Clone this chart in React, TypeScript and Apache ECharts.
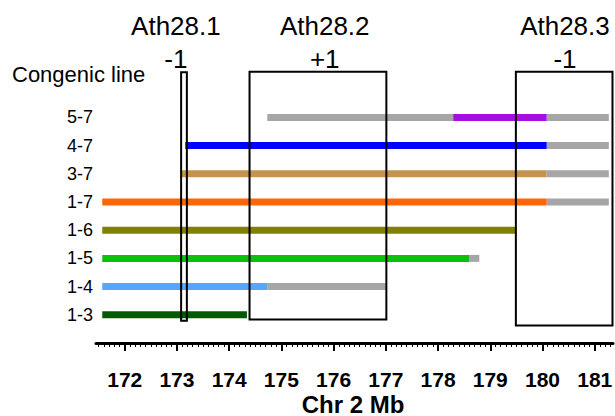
import React, { useEffect, useRef } from "react";
import * as echarts from "echarts";

// Congenic lines, bottom to top (row value 1..8)
const lineNames = ["1-3", "1-4", "1-5", "1-6", "1-7", "3-7", "4-7", "5-7"];

// Introgressed (coloured) segments: [line, start Mb, end Mb]
const colouredSegments: [string, number, number][] = [
  ["1-3", 171.57, 174.34],
  ["1-4", 171.57, 174.73],
  ["1-5", 171.57, 178.6],
  ["1-6", 171.57, 179.48],
  ["1-7", 171.57, 180.08],
  ["3-7", 173.07, 180.08],
  ["4-7", 173.16, 180.08],
  ["5-7", 178.29, 180.08],
];

// Ambiguous (grey) segments: [line, start Mb, end Mb]
const greySegments: [string, number, number][] = [
  ["1-4", 174.73, 177.0],
  ["1-5", 178.6, 178.79],
  ["1-7", 180.08, 181.27],
  ["3-7", 180.08, 181.27],
  ["4-7", 180.08, 181.27],
  ["5-7", 174.73, 178.29],
  ["5-7", 180.08, 181.27],
];

// QTL boxes
const qtlNames = ["Ath28.1", "Ath28.2", "Ath28.3"];
const qtlEffects = ["-1", "+1", "-1"];
const qtlStart = [173.08, 174.39, 179.49];
const qtlEnd = [173.19, 177.01, 181.34];
const qtlBottom = [0.79, 0.83, 0.62];
const qtlTop = [9.6, 9.62, 9.62];
const qtlLabelAt = [172.98, 175.83, 180.43];

// Axis ticks
const tickLabels = [172, 173, 174, 175, 176, 177, 178, 179, 180, 181];
const axisTitle = "Chr 2 Mb";
const minorTickStart = 171.5;
const minorTickEnd = 181.3;

const lineColours: Record<string, string> = {
  "1-3": "#035a03",
  "1-4": "#58a6fa",
  "1-5": "#0ac00a",
  "1-6": "#818100",
  "1-7": "#ff6608",
  "3-7": "#c4944f",
  "4-7": "#0000ff",
  "5-7": "#a60ee2",
};
const greyColour = "#a6a6a8";
const FONT = "Liberation Sans";

export default function App() {
  const ref = useRef<HTMLDivElement>(null);
  useEffect(() => {
    if (!ref.current) return;
    const chart = echarts.init(ref.current, null, { renderer: "svg" });

    const minorTicks: number[] = [];
    for (let v = Math.round(minorTickStart * 10); v <= Math.round(minorTickEnd * 10); v++) {
      minorTicks.push(v / 10);
    }

    const barData = [
      ...greySegments.map((s) => [s[1], s[2], lineNames.indexOf(s[0]) + 1]),
      ...colouredSegments.map((s) => [s[1], s[2], lineNames.indexOf(s[0]) + 1]),
    ];
    const barColours = [
      ...greySegments.map(() => greyColour),
      ...colouredSegments.map((s) => lineColours[s[0]]),
    ];

    const boxData = qtlNames.map((_, i) => [qtlStart[i], qtlEnd[i], qtlBottom[i], qtlTop[i], qtlLabelAt[i]]);

    const xMin = 171.45;
    const xMax = 181.35;

    chart.setOption({
      animation: false,
      grid: { left: 96, right: 2, top: 61, bottom: 73, containLabel: false, outerBoundsMode: "none" },
      xAxis: [
        {
          type: "value",
          min: xMin,
          max: xMax,
          position: "bottom",
          axisLine: { show: true, onZero: false, lineStyle: { color: "#000", width: 3 } },
          axisTick: { show: true, customValues: tickLabels, length: 8, lineStyle: { color: "#000", width: 2 } },
          axisLabel: {
            show: true,
            customValues: tickLabels,
            margin: 26,
            color: "#000",
            fontSize: 21,
            fontWeight: "bold",
            fontFamily: FONT,
          },
          splitLine: { show: false },
        },
        {
          type: "value",
          min: xMin,
          max: xMax,
          position: "bottom",
          axisLine: { show: false },
          axisTick: { show: true, customValues: minorTicks, length: 4, lineStyle: { color: "#000", width: 1 } },
          axisLabel: { show: false },
          splitLine: { show: false },
        },
      ],
      yAxis: {
        type: "value",
        min: 0,
        max: 10,
        axisLine: { show: false },
        axisTick: { show: false },
        splitLine: { show: false },
        axisLabel: {
          show: true,
          customValues: [1, 2, 3, 4, 5, 6, 7, 8],
          formatter: (v: number) => lineNames[Math.round(v) - 1] ?? "",
          align: "center",
          margin: 16,
          color: "#000",
          fontSize: 18,
          fontFamily: FONT,
        },
      },
      graphic: [
        {
          type: "text",
          left: 12,
          top: 63,
          style: { text: "Congenic line", fill: "#000", fontSize: 22, fontFamily: FONT },
        },
        {
          type: "text",
          x: 353,
          y: 404,
          style: {
            text: axisTitle,
            fill: "#000",
            fontSize: 24,
            fontWeight: "bold",
            fontFamily: FONT,
            align: "center",
            verticalAlign: "middle",
          },
        },
      ],
      series: [
        {
          type: "custom",
          xAxisIndex: 0,
          yAxisIndex: 0,
          encode: { x: [0, 1], y: 2 },
          data: barData,
          renderItem: (params: any, api: any) => {
            const s = api.coord([api.value(0), api.value(2)]);
            const e = api.coord([api.value(1), api.value(2)]);
            return {
              type: "rect",
              shape: { x: s[0], y: s[1] - 3.5, width: e[0] - s[0], height: 7 },
              style: { fill: barColours[params.dataIndex] },
            };
          },
        },
        {
          type: "custom",
          xAxisIndex: 0,
          yAxisIndex: 0,
          encode: { x: [0, 1], y: [2, 3] },
          data: boxData,
          renderItem: (params: any, api: any) => {
            const i = params.dataIndex;
            const tl = api.coord([api.value(0), api.value(3)]);
            const br = api.coord([api.value(1), api.value(2)]);
            const lab = api.coord([api.value(4), api.value(3)]);
            return {
              type: "group",
              children: [
                {
                  type: "rect",
                  shape: { x: tl[0], y: tl[1], width: br[0] - tl[0], height: br[1] - tl[1] },
                  style: { fill: "none", stroke: "#000", lineWidth: 2 },
                },
                {
                  type: "text",
                  style: {
                    text: qtlNames[i],
                    x: lab[0],
                    y: tl[1] - 46,
                    align: "center",
                    verticalAlign: "middle",
                    fill: "#000",
                    fontSize: 26,
                    fontFamily: FONT,
                  },
                },
                {
                  type: "text",
                  style: {
                    text: qtlEffects[i],
                    x: lab[0],
                    y: tl[1] - 13,
                    align: "center",
                    verticalAlign: "middle",
                    fill: "#000",
                    fontSize: 26,
                    fontFamily: FONT,
                  },
                },
              ],
            };
          },
        },
      ],
    });
    return () => chart.dispose();
  }, []);
  return (
    <div
      ref={ref}
      style={{ position: "fixed", left: 0, top: 0, width: 615, height: 416, background: "#fff" }}
    />
  );
}
